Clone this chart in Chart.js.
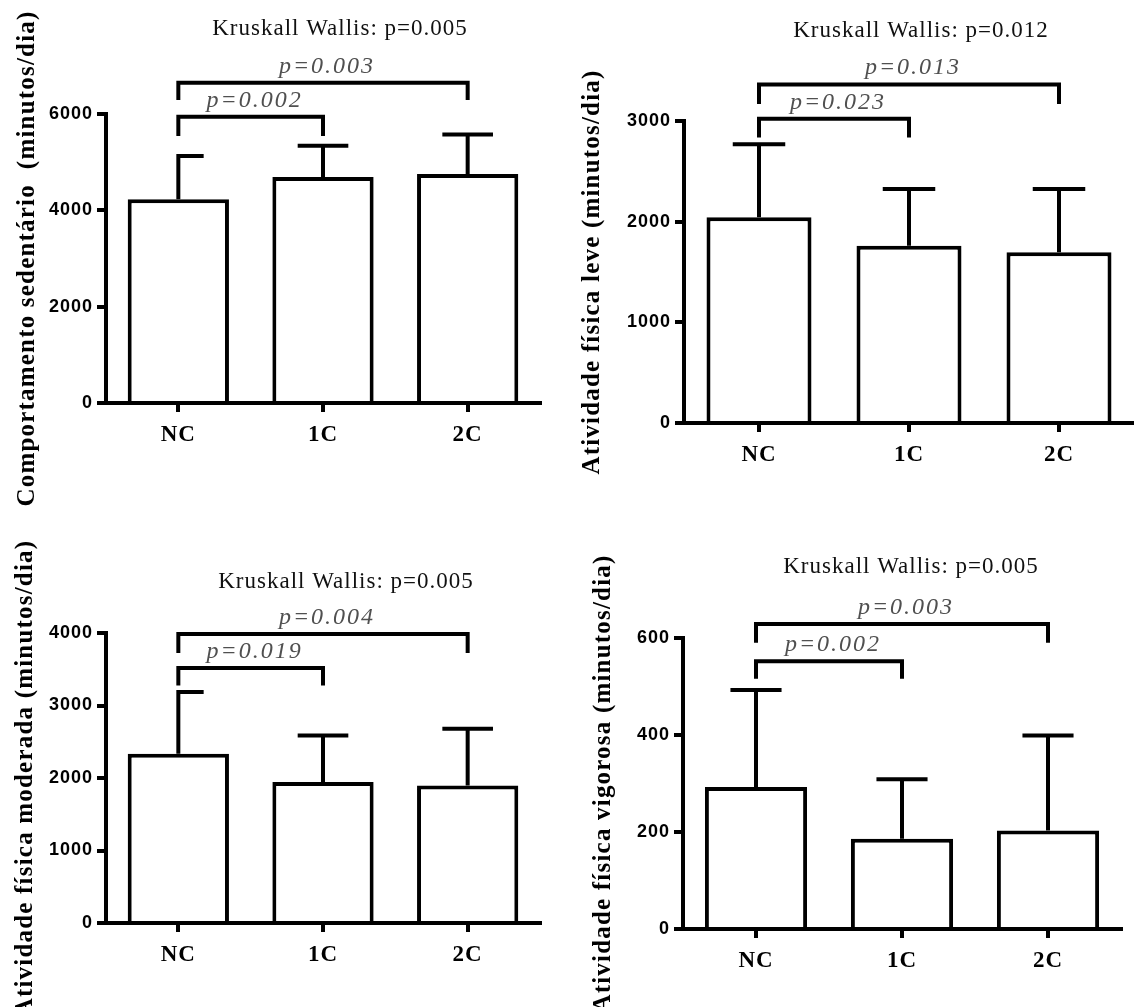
<!DOCTYPE html>
<html>
<head>
<meta charset="utf-8">
<script src="https://cdn.jsdelivr.net/npm/chart.js@4.4.1/dist/chart.umd.min.js"></script>
<style>
  html, body { margin: 0; padding: 0; background: #fff; }
  body { width: 1134px; height: 1007px; position: relative; overflow: hidden; }
  canvas { position: absolute; }
</style>
</head>
<body>
<canvas id="sedentario"></canvas>
<canvas id="leve"></canvas>
<canvas id="moderada"></canvas>
<canvas id="vigorosa"></canvas>
<script>
// data
const categories = ['NC', '1C', '2C'];
const bracketPairs = [[0, 1], [0, 2]];

const sedentarioMean = [4230, 4690, 4755];
const sedentarioSd = [900, 650, 820];
const sedentarioTicks = [0, 2000, 4000, 6000];
const sedentarioBracketTop = [5945, 6650];
const sedentarioBracketLeg = [5545, 6290];
const sedentarioPairP = ['p=0.002', 'p=0.003'];

const leveMean = [2045, 1760, 1695];
const leveSd = [725, 565, 630];
const leveTicks = [0, 1000, 2000, 3000];
const leveBracketTop = [3023, 3363];
const leveBracketLeg = [2835, 3170];
const levePairP = ['p=0.023', 'p=0.013'];

const moderadaMean = [2335, 1945, 1895];
const moderadaSd = [850, 640, 785];
const moderadaTicks = [0, 1000, 2000, 3000, 4000];
const moderadaBracketTop = [3517, 3986];
const moderadaBracketLeg = [3275, 3724];
const moderadaPairP = ['p=0.019', 'p=0.004'];

const vigorosaMean = [293, 186, 203];
const vigorosaSd = [200, 123, 196];
const vigorosaTicks = [0, 200, 400, 600];
const vigorosaBracketTop = [552, 629];
const vigorosaBracketLeg = [516, 590];
const vigorosaPairP = ['p=0.002', 'p=0.003'];

// panel layout
const panels = [
  {
    id: 'sedentario', left: 0, top: 0, width: 560, height: 520,
    area: { left: 106, right: 540, top: 114, bottom: 403 },
    titleX: 340, titleY: 35, yTitleX: 28, halfCapFirst: true,
    title: 'Kruskall Wallis: p=0.005', yTitle: 'Comportamento sedentário  (minutos/dia)',
    mean: sedentarioMean, sd: sedentarioSd, ticks: sedentarioTicks,
    bracketTop: sedentarioBracketTop, bracketLeg: sedentarioBracketLeg, pairP: sedentarioPairP,
  },
  {
    id: 'leve', left: 560, top: 0, width: 574, height: 520,
    area: { left: 124, right: 574, top: 121, bottom: 423 },
    titleX: 361, titleY: 37, yTitleX: 33, halfCapFirst: false,
    title: 'Kruskall Wallis: p=0.012', yTitle: 'Atividade física leve (minutos/dia)',
    mean: leveMean, sd: leveSd, ticks: leveTicks,
    bracketTop: leveBracketTop, bracketLeg: leveBracketLeg, pairP: levePairP,
  },
  {
    id: 'moderada', left: 0, top: 500, width: 560, height: 507,
    area: { left: 106, right: 540, top: 133, bottom: 423 },
    titleX: 346, titleY: 88, yTitleX: 26, halfCapFirst: true,
    title: 'Kruskall Wallis: p=0.005', yTitle: 'Atividade física moderada (minutos/dia)',
    mean: moderadaMean, sd: moderadaSd, ticks: moderadaTicks,
    bracketTop: moderadaBracketTop, bracketLeg: moderadaBracketLeg, pairP: moderadaPairP,
  },
  {
    id: 'vigorosa', left: 560, top: 500, width: 574, height: 507,
    area: { left: 123, right: 561, top: 138, bottom: 429 },
    titleX: 351, titleY: 73, yTitleX: 44, halfCapFirst: false,
    title: 'Kruskall Wallis: p=0.005', yTitle: 'Atividade física vigorosa (minutos/dia)',
    mean: vigorosaMean, sd: vigorosaSd, ticks: vigorosaTicks,
    bracketTop: vigorosaBracketTop, bracketLeg: vigorosaBracketLeg, pairP: vigorosaPairP,
  },
];

// error bars, comparison brackets and texts
function panelExtras(p) {
  return {
    id: 'extras',
    beforeDraw(chart) {
      chart.ctx.letterSpacing = '1px';
    },
    afterDatasetsDraw(chart) {
      const ctx = chart.ctx;
      const y = chart.scales.y;
      const bars = chart.getDatasetMeta(0).data;
      ctx.save();
      ctx.strokeStyle = '#000';
      ctx.lineWidth = 4;
      ctx.lineCap = 'butt';
      ctx.lineJoin = 'miter';
      bars.forEach((bar, i) => {
        const top = y.getPixelForValue(p.mean[i] + p.sd[i]);
        const half = bar.width * 0.25;
        ctx.beginPath();
        ctx.moveTo(bar.x, bar.y);
        ctx.lineTo(bar.x, top);
        ctx.moveTo(i === 0 && p.halfCapFirst ? bar.x - 2 : bar.x - half, top);
        ctx.lineTo(bar.x + half, top);
        ctx.stroke();
      });
      bracketPairs.forEach(([a, b], k) => {
        const x1 = bars[a].x;
        const x2 = bars[b].x;
        const yt = y.getPixelForValue(p.bracketTop[k]);
        const yl = y.getPixelForValue(p.bracketLeg[k]);
        ctx.beginPath();
        ctx.moveTo(x1, yl);
        ctx.lineTo(x1, yt);
        ctx.lineTo(x2, yt);
        ctx.lineTo(x2, yl);
        ctx.stroke();
        ctx.font = 'italic 24px "Liberation Serif"';
        ctx.letterSpacing = '2px';
        ctx.fillStyle = '#505050';
        ctx.textAlign = 'center';
        ctx.textBaseline = 'alphabetic';
        ctx.fillText(p.pairP[k], (x1 + x2) / 2 + 4, yt - 10);
      });
      ctx.restore();
    },
    afterDraw(chart) {
      const ctx = chart.ctx;
      const ca = chart.chartArea;
      ctx.save();
      ctx.fillStyle = '#111';
      ctx.font = '23px "Liberation Serif"';
      ctx.letterSpacing = '1px';
      ctx.textAlign = 'center';
      ctx.textBaseline = 'alphabetic';
      ctx.fillText(p.title, p.titleX, p.titleY);

      ctx.translate(p.yTitleX, (ca.top + ca.bottom) / 2);
      ctx.rotate(-Math.PI / 2);
      ctx.fillStyle = '#000';
      ctx.font = 'bold 25px "Liberation Serif"';
      ctx.letterSpacing = '1.2px';
      ctx.textBaseline = 'middle';
      ctx.fillText(p.yTitle, 0, 0);
      ctx.restore();
    },
  };
}

function makeChart(p) {
  const canvas = document.getElementById(p.id);
  canvas.width = p.width;
  canvas.height = p.height;
  canvas.style.left = p.left + 'px';
  canvas.style.top = p.top + 'px';
  canvas.style.width = p.width + 'px';
  canvas.style.height = p.height + 'px';

  const axisGrid = { drawOnChartArea: false, tickLength: 9, tickWidth: 4, lineWidth: 4, tickColor: '#000', color: '#000' };
  const xLabelBottom = p.height - p.area.bottom;

  return new Chart(canvas, {
    type: 'bar',
    data: {
      labels: categories,
      datasets: [{
        data: p.mean,
        backgroundColor: '#fff',
        borderColor: '#000',
        borderWidth: 4,
        borderSkipped: 'start',
        barPercentage: 0.7,
        categoryPercentage: 1,
      }],
    },
    options: {
      responsive: false,
      animation: false,
      devicePixelRatio: 1,
      layout: { padding: { left: 0, top: p.area.top, right: p.width - p.area.right, bottom: 0 } },
      plugins: { legend: { display: false }, tooltip: { enabled: false } },
      scales: {
        x: {
          offset: true,
          grid: { ...axisGrid, offset: false },
          border: { color: '#000', width: 4 },
          ticks: {
            color: '#000',
            font: { family: 'Liberation Serif', weight: 'bold', size: 23 },
            padding: 9,
            maxRotation: 0,
          },
          afterFit: (s) => { s.height = xLabelBottom; },
        },
        y: {
          min: 0,
          max: p.ticks[p.ticks.length - 1],
          grid: axisGrid,
          border: { color: '#000', width: 4 },
          ticks: {
            stepSize: p.ticks[1] - p.ticks[0],
            color: '#000',
            font: { family: 'Liberation Sans', weight: 'bold', size: 18 },
            padding: 4,
            callback: (v) => String(v),
          },
          afterFit: (s) => { s.width = p.area.left; },
        },
      },
    },
    plugins: [panelExtras(p)],
  });
}

panels.forEach(makeChart);
</script>
</body>
</html>
